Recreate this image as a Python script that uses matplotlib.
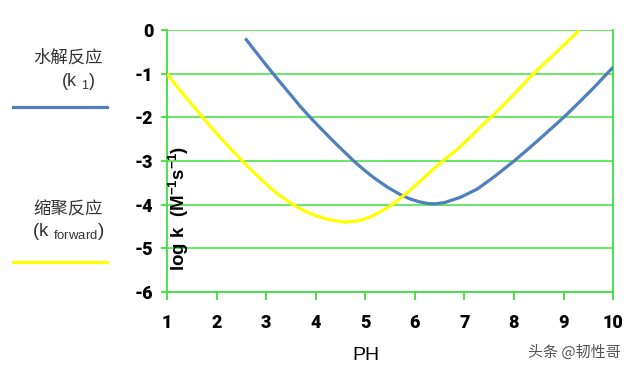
import matplotlib
matplotlib.use("Agg")
import matplotlib.pyplot as plt

# values
ph_hydrolysis = [2.58, 2.75, 3.0, 3.25, 3.5, 3.69, 3.89, 4.1, 4.36, 4.55, 4.77, 4.95, 5.17,
                 5.45, 5.71, 5.91, 6.08, 6.25, 6.41, 6.6, 6.92, 7.26, 7.6, 8.0, 8.3, 8.6,
                 9.02, 9.3, 9.6, 10.0]
logk_hydrolysis = [-0.19, -0.44, -0.80, -1.15, -1.49, -1.75, -2.0, -2.25, -2.55, -2.76,
                   -3.0, -3.18, -3.38, -3.60, -3.77, -3.87, -3.93, -3.97, -3.98, -3.95,
                   -3.83, -3.64, -3.36, -3.0, -2.71, -2.41, -1.98, -1.67, -1.33, -0.85]

ph_condensation = [1.0, 1.25, 1.5, 1.72, 2.0, 2.25, 2.54, 2.75, 3.08, 3.25, 3.52, 3.75, 4.0,
                   4.25, 4.6, 4.9, 5.1, 5.3, 5.54, 5.74, 5.91, 6.11, 6.3, 6.56, 6.88, 7.0,
                   7.25, 7.53, 7.75, 8.0, 8.25, 8.39, 8.75, 9.0, 9.32]
logk_condensation = [-1.0, -1.36, -1.70, -2.0, -2.37, -2.68, -3.02, -3.26, -3.61, -3.77,
                     -3.98, -4.13, -4.25, -4.34, -4.4, -4.36, -4.28, -4.17, -4.0, -3.82,
                     -3.66, -3.46, -3.26, -3.0, -2.71, -2.58, -2.30, -2.0, -1.76, -1.47,
                     -1.17, -1.0, -0.62, -0.35, 0.0]

x_ticks = [1, 2, 3, 4, 5, 6, 7, 8, 9, 10]
y_ticks = [0, -1, -2, -3, -4, -5, -6]

green = "#3ee03e"
blue = "#4f7fbd"
yellow = "#ffff00"

plt.rcParams["font.family"] = ["Liberation Sans", "Noto Sans CJK SC"]
plt.rcParams["mathtext.fontset"] = "custom"
plt.rcParams["mathtext.rm"] = "Liberation Sans"
plt.rcParams["mathtext.bf"] = "Liberation Sans:bold"

fig = plt.figure(figsize=(6.4, 3.72), dpi=100)
ax = fig.add_axes([0.261, 0.215, 0.697, 0.704])

ax.plot(ph_hydrolysis, logk_hydrolysis, color=blue, lw=2.3, solid_capstyle="butt", zorder=3)
ax.plot(ph_condensation, logk_condensation, color=yellow, lw=2.3, solid_capstyle="butt", zorder=3)

ax.set_xlim(1, 10)
ax.set_ylim(-6, 0)
ax.set_xticks(x_ticks)
ax.set_yticks(y_ticks)
tick_font = dict(fontsize=13, fontweight="black", family=["Roboto", "Liberation Sans"])
ax.set_xticklabels([str(v) for v in x_ticks], **tick_font)
ax.set_yticklabels([str(v) for v in y_ticks], **tick_font)
ax.tick_params(axis="x", colors=green, length=6, width=1.3, direction="out", pad=10,
               labelcolor="black")
ax.tick_params(axis="y", colors=green, length=4, width=1.3, direction="out", pad=6,
               labelcolor="black")
ax.grid(axis="y", color=green, lw=1.1)
for s in ["left", "bottom", "right"]:
    ax.spines[s].set_color(green)
    ax.spines[s].set_linewidth(1.3)
ax.spines["top"].set_visible(False)

fig.text(366 / 640, 1 - 355 / 372, "PH", ha="center", va="center", fontsize=14)
ax.text(0.026, 0.32, r"log k  (M$^{\mathbf{-1}}$s$^{\mathbf{-1}}$)", transform=ax.transAxes,
        rotation=90, ha="center", va="center", fontsize=13.5, fontweight="bold")

# legend drawn at the left of the figure
fig.text(103 / 640, 1 - 58 / 372, "水解反应", ha="right", va="center", fontsize=12.5,
         color="#333333", family=["Noto Sans CJK SC"])
fig.text(96 / 640, 1 - 82 / 372, r"(k $_{\mathrm{1}}$)", ha="right", va="center",
         fontsize=13, color="#333333")
fig.add_artist(plt.Line2D([13 / 640, 107 / 640], [1 - 107 / 372, 1 - 107 / 372],
                          color=blue, lw=2.3, transform=fig.transFigure))

fig.text(103 / 640, 1 - 210 / 372, "缩聚反应", ha="right", va="center", fontsize=12.5,
         color="#333333", family=["Noto Sans CJK SC"])
fig.text(104 / 640, 1 - 232 / 372, r"(k $_{\mathrm{forward}}$)", ha="right", va="center",
         fontsize=13.5, color="#333333")
fig.add_artist(plt.Line2D([13 / 640, 107 / 640], [1 - 262 / 372, 1 - 262 / 372],
                          color=yellow, lw=2.3, transform=fig.transFigure))

fig.text(621 / 640, 1 - 352 / 372, "头条 @韧性哥", ha="right", va="center", fontsize=10.8,
         color="#555555", family=["Noto Sans CJK SC", "DejaVu Sans"])

fig.savefig("out.png", dpi=100)
